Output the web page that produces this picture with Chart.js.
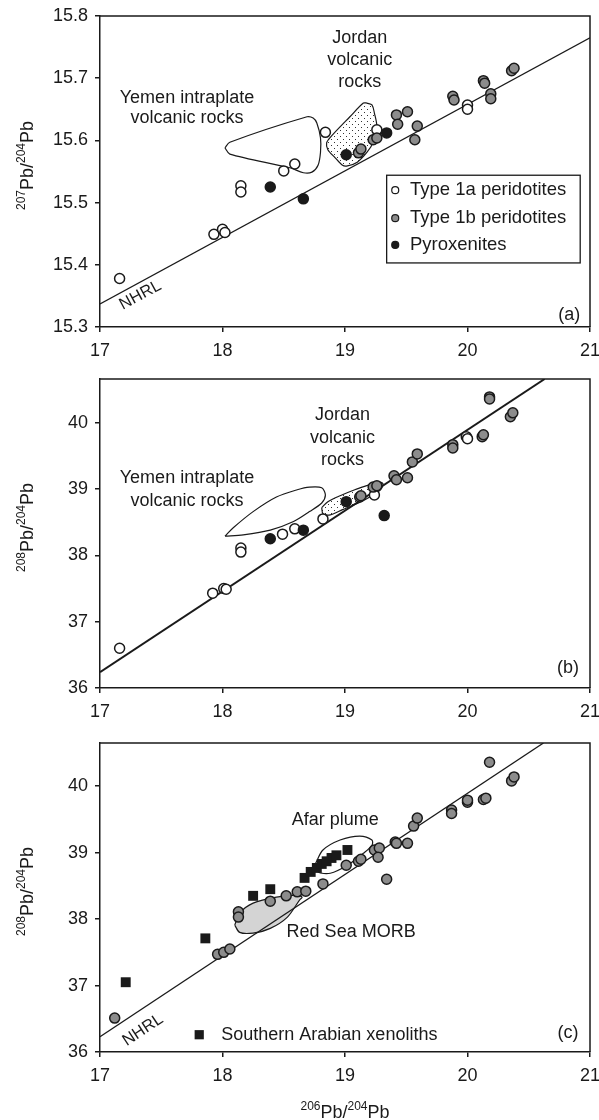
<!DOCTYPE html>
<html>
<head>
<meta charset="utf-8">
<script src="https://cdn.jsdelivr.net/npm/chart.js@4.4.1/dist/chart.umd.min.js"></script>
<style>
  html, body { margin: 0; padding: 0; background: #fff; }
  #wrap { position: relative; width: 599px; height: 1120px; }
  canvas { position: absolute; left: 0; }
</style>
</head>
<body>
<div id="wrap">
  <canvas id="chartA" width="599" height="362" style="top:0px"></canvas>
  <canvas id="chartB" width="599" height="363" style="top:362px"></canvas>
  <canvas id="chartC" width="599" height="395" style="top:725px"></canvas>
</div>
<script>
// --- 1. Values ---
const xTicks = [17, 18, 19, 20, 21];
const yTicks207 = [15.3, 15.4, 15.5, 15.6, 15.7, 15.8];
const yTicks208 = [36, 37, 38, 39, 40];

// (a) 207Pb/204Pb vs 206Pb/204Pb
const type1a_a = [[17.16,15.378],[17.93,15.449],[18.00,15.457],[18.02,15.452],[18.15,15.527],[18.15,15.517],
  [18.50,15.551],[18.59,15.562],[18.84,15.613],[19.26,15.617],[20.00,15.657],[20.00,15.650]];
const type1b_a = [[19.11,15.580],[19.13,15.586],[19.23,15.601],[19.26,15.604],[19.42,15.641],[19.43,15.626],
  [19.51,15.646],[19.59,15.623],[19.57,15.601],[19.88,15.671],[19.89,15.665],[20.13,15.696],[20.14,15.692],
  [20.19,15.675],[20.19,15.667],[20.36,15.712],[20.38,15.716]];
const pyrox_a = [[18.39,15.525],[18.66,15.506],[19.01,15.577],[19.34,15.612]];
const nhrl_a = [[17, 15.337], [21, 15.765]];
const yemen_a = [[18.02,15.588],[18.06,15.597],[18.69,15.638],[18.74,15.636],[18.77,15.628],[18.80,15.604],
  [18.80,15.581],[18.78,15.560],[18.73,15.549],[18.66,15.548],[18.55,15.556],[18.06,15.578]];
const jordan_a = [[19.18,15.660],[19.22,15.657],[19.24,15.644],[19.26,15.622],[19.23,15.597],[19.18,15.581],
  [19.10,15.565],[19.02,15.559],[18.98,15.560],[18.92,15.572],[18.86,15.585],[18.85,15.596],[18.88,15.605],
  [19.04,15.638],[19.15,15.660]];

// (b) 208Pb/204Pb vs 206Pb/204Pb
const type1a_b = [[17.16,36.60],[17.92,37.43],[18.01,37.50],[18.03,37.49],[18.15,38.11],[18.15,38.05],
  [18.49,38.32],[18.59,38.40],[18.82,38.55],[19.24,38.91],[19.99,39.79],[20.00,39.76]];
const type1b_b = [[19.12,38.88],[19.13,38.90],[19.23,39.03],[19.26,39.05],[19.40,39.20],[19.42,39.14],
  [19.51,39.17],[19.55,39.41],[19.59,39.53],[19.88,39.67],[19.88,39.62],[20.12,39.79],[20.13,39.82],
  [20.18,40.39],[20.18,40.36],[20.35,40.09],[20.37,40.15]];
const pyrox_b = [[18.39,38.25],[18.66,38.38],[19.01,38.81],[19.32,38.60]];
const nhrl_b = [[17, 36.24], [20.63, 40.66]];
const yemen_b = [[18.02,38.29],[18.09,38.42],[18.25,38.66],[18.44,38.88],[18.61,38.99],[18.71,39.03],
  [18.81,39.02],[18.84,38.91],[18.81,38.79],[18.71,38.66],[18.58,38.51],[18.39,38.38],[18.17,38.31]];
const jordan_b = [[18.81,38.72],[18.86,38.81],[18.96,38.90],[19.08,38.99],[19.19,39.06],[19.27,39.11],
  [19.31,39.08],[19.29,38.99],[19.22,38.90],[19.11,38.79],[18.98,38.69],[18.88,38.61],[18.82,38.63]];

// (c) 208Pb/204Pb vs 206Pb/204Pb with southern Arabian xenoliths
const peridot_c = [[17.12,36.51],[17.96,37.47],[18.01,37.50],[18.06,37.55],[18.13,38.11],[18.13,38.03],
  [18.39,38.27],[18.52,38.35],[18.61,38.41],[18.68,38.42],[18.82,38.53],[19.01,38.81],[19.11,38.87],
  [19.13,38.90],[19.24,39.04],[19.28,39.07],[19.27,38.93],[19.34,38.60],[19.41,39.16],[19.42,39.14],
  [19.51,39.14],[19.56,39.40],[19.59,39.52],[19.87,39.64],[19.87,39.59],[20.00,39.76],[20.00,39.79],
  [20.13,39.80],[20.15,39.82],[20.18,40.36],[20.36,40.08],[20.38,40.14]];
const arabian_c = [[17.21,37.05],[17.86,37.71],[18.25,38.35],[18.39,38.45],[18.67,38.62],[18.72,38.71],
  [18.77,38.77],[18.81,38.83],[18.85,38.87],[18.89,38.92],[18.93,38.96],[19.02,39.04]];
const nhrl_c = [[17, 36.23], [20.62, 40.65]];
const afar_c = [[18.76,38.84],[18.82,39.04],[18.96,39.19],[19.12,39.25],[19.22,39.19],[19.22,39.11],
  [19.15,38.99],[19.02,38.81],[18.88,38.69],[18.78,38.71]];
const morb_c = [[18.10,37.91],[18.14,38.09],[18.25,38.24],[18.44,38.33],[18.61,38.36],[18.65,38.33],
  [18.63,38.29],[18.53,38.03],[18.39,37.86],[18.25,37.79],[18.14,37.80]];

// --- 2. Styles ---
const FONT = '"Liberation Sans", Arial, Helvetica, sans-serif';
const INK = '#1a1a1a';
const GREY = '#8c8c8c';

const pts = arr => arr.map(([x, y]) => ({ x, y }));
const closed = arr => pts(arr.concat([arr[0]]));

function dotPattern() {
  const c = document.createElement('canvas');
  c.width = 6; c.height = 6;
  const g = c.getContext('2d');
  g.fillStyle = '#fff'; g.fillRect(0, 0, 6, 6);
  g.fillStyle = '#333'; g.fillRect(1, 1, 1, 1); g.fillRect(4, 4, 1, 1);
  return g.createPattern(c, 'repeat');
}

function markers(data, fill, order, shape) {
  return {
    data: pts(data), backgroundColor: fill, borderColor: INK,
    borderWidth: shape === 'rect' ? 0 : 1.5,
    pointRadius: shape === 'rect' ? 7 : 5,
    pointStyle: shape || 'circle', order
  };
}

function lineSet(data) {
  return { data: pts(data), showLine: true, pointRadius: 0, borderColor: INK, borderWidth: 1.3, fill: false, order: 5 };
}

function shapeSet(data, fill) {
  return {
    data: closed(data), showLine: true, pointRadius: 0, borderColor: INK, borderWidth: 1.2,
    backgroundColor: fill || 'transparent', fill: fill ? 'shape' : false, tension: 0.3, order: 10
  };
}

// --- 3. Drawing helpers: frame, notes, legend, axis titles ---
function drawRatio(ctx, cx, cy, supA, supB, vertical) {
  const big = '18px ' + FONT, small = '12px ' + FONT;
  const parts = [[supA, small, -1.5], ['Pb/', big, 6.5], [supB, small, -1.5], ['Pb', big, 6.5]];
  let total = 0;
  parts.forEach(p => { ctx.font = p[1]; p.push(ctx.measureText(p[0]).width); total += p[3]; });
  ctx.save();
  ctx.translate(cx, cy);
  if (vertical) ctx.rotate(-Math.PI / 2);
  ctx.fillStyle = INK; ctx.textBaseline = 'alphabetic'; ctx.textAlign = 'left';
  let xx = -total / 2;
  parts.forEach(p => { ctx.font = p[1]; ctx.fillText(p[0], xx, p[2]); xx += p[3]; });
  ctx.restore();
}

const panelExtras = {
  id: 'panelExtras',
  afterDraw(chart, args, opts) {
    const { ctx, chartArea: a, scales: { x, y } } = chart;
    ctx.save();
    ctx.strokeStyle = INK; ctx.lineWidth = 1.5;
    ctx.beginPath();
    ctx.moveTo(a.left, a.top); ctx.lineTo(a.right, a.top); ctx.lineTo(a.right, a.bottom);
    ctx.stroke();

    (opts.notes || []).forEach(n => {
      ctx.save();
      ctx.translate(x.getPixelForValue(n.x), y.getPixelForValue(n.y));
      if (n.along) {
        const [p0, p1] = n.along;
        ctx.rotate(Math.atan2(y.getPixelForValue(p1[1]) - y.getPixelForValue(p0[1]),
                              x.getPixelForValue(p1[0]) - x.getPixelForValue(p0[0])));
      }
      ctx.font = (n.size || 18) + 'px ' + FONT;
      ctx.fillStyle = INK; ctx.textAlign = n.align || 'center'; ctx.textBaseline = 'middle';
      ctx.fillText(n.text, 0, 0);
      ctx.restore();
    });

    const lg = opts.legend;
    if (lg) {
      if (lg.box) {
        const l = x.getPixelForValue(lg.box[0]), t = y.getPixelForValue(lg.box[1]);
        const r = x.getPixelForValue(lg.box[2]), b = y.getPixelForValue(lg.box[3]);
        ctx.fillStyle = '#fff'; ctx.fillRect(l, t, r - l, b - t);
        ctx.lineWidth = 1.3; ctx.strokeStyle = INK; ctx.strokeRect(l, t, r - l, b - t);
      }
      lg.rows.forEach(row => {
        const py = y.getPixelForValue(row.y);
        const mx = x.getPixelForValue(lg.markerX);
        ctx.fillStyle = row.fill; ctx.strokeStyle = INK; ctx.lineWidth = 1.2;
        if (row.shape === 'rect') {
          ctx.fillRect(mx - 4.6, py - 4.6, 9.2, 9.2);
        } else {
          ctx.beginPath(); ctx.arc(mx, py, 3.5, 0, Math.PI * 2); ctx.fill(); ctx.stroke();
        }
        ctx.fillStyle = INK; ctx.font = (lg.size || 18) + 'px ' + FONT;
        ctx.textAlign = 'left'; ctx.textBaseline = 'middle';
        ctx.fillText(row.label, x.getPixelForValue(lg.textX), py);
      });
    }

    if (opts.yTitle) drawRatio(ctx, 26.5, (a.top + a.bottom) / 2 - 6, '2' + opts.yTitle, '204', true);
    if (opts.xTitle) drawRatio(ctx, (a.left + a.right) / 2, a.bottom + 59, opts.xTitle, '204', false);
    ctx.restore();
  }
};

function panelOptions(p) {
  const tickFont = { family: FONT, size: 18 };
  const grid = { drawOnChartArea: false, color: INK, lineWidth: 1.5, tickLength: 5 };
  const border = { color: INK, width: 1.5 };
  return {
    responsive: false, animation: false, events: [],
    layout: { padding: { left: 0, right: 9, top: p.top, bottom: 0 } },
    plugins: { legend: { display: false }, tooltip: { enabled: false }, panelExtras: p.extras },
    scales: {
      x: {
        type: 'linear', min: 17, max: 21,
        afterBuildTicks: s => { s.ticks = xTicks.map(v => ({ value: v })); },
        afterFit: s => { s.height = p.xAxisH; s.paddingLeft = 0; s.paddingRight = 0; },
        ticks: { color: INK, font: tickFont, padding: 8, maxRotation: 0 },
        grid, border
      },
      y: {
        type: 'linear', min: p.yMin, max: p.yMax,
        afterBuildTicks: s => { s.ticks = p.yTicks.map(v => ({ value: v })); },
        afterFit: s => { s.width = 100; s.paddingTop = 0; s.paddingBottom = 0; },
        ticks: { color: INK, font: tickFont, padding: 7, callback: v => v.toFixed(p.dec) },
        grid, border
      }
    }
  };
}

// --- 4. Panels ---
const dots = dotPattern();

new Chart(document.getElementById('chartA'), {
  type: 'scatter',
  data: { datasets: [
    shapeSet(yemen_a), shapeSet(jordan_a, dots), lineSet(nhrl_a),
    markers(type1a_a, '#fff', 3), markers(type1b_a, GREY, 2), markers(pyrox_a, INK, 1)
  ] },
  options: panelOptions({
    top: 16, xAxisH: 35, yMin: 15.3, yMax: 15.8, yTicks: yTicks207, dec: 1,
    extras: {
      yTitle: '07',
      notes: [
        { text: 'Yemen intraplate', x: 17.71, y: 15.668 },
        { text: 'volcanic rocks', x: 17.71, y: 15.636 },
        { text: 'Jordan', x: 19.12, y: 15.765 },
        { text: 'volcanic', x: 19.12, y: 15.729 },
        { text: 'rocks', x: 19.12, y: 15.694 },
        { text: 'NHRL', x: 17.33, y: 15.351, along: nhrl_a, size: 16.5 },
        { text: '(a)', x: 20.83, y: 15.319 }
      ],
      legend: {
        box: [19.34, 15.544, 20.92, 15.403], markerX: 19.41, textX: 19.53, size: 18.5,
        rows: [
          { label: 'Type 1a peridotites', y: 15.520, fill: '#fff' },
          { label: 'Type 1b peridotites', y: 15.475, fill: GREY },
          { label: 'Pyroxenites', y: 15.432, fill: INK }
        ]
      }
    }
  }),
  plugins: [panelExtras]
});

new Chart(document.getElementById('chartB'), {
  type: 'scatter',
  data: { datasets: [
    shapeSet(yemen_b), shapeSet(jordan_b, dots), Object.assign(lineSet(nhrl_b), { borderWidth: 2 }),
    markers(type1a_b, '#fff', 3), markers(type1b_b, GREY, 2), markers(pyrox_b, INK, 1)
  ] },
  options: panelOptions({
    top: 17, xAxisH: 37, yMin: 36, yMax: 40.66, yTicks: yTicks208, dec: 0,
    extras: {
      yTitle: '08',
      notes: [
        { text: 'Yemen intraplate', x: 17.71, y: 39.17 },
        { text: 'volcanic rocks', x: 17.71, y: 38.82 },
        { text: 'Jordan', x: 18.98, y: 40.12 },
        { text: 'volcanic', x: 18.98, y: 39.77 },
        { text: 'rocks', x: 18.98, y: 39.44 },
        { text: '(b)', x: 20.82, y: 36.30 }
      ]
    }
  }),
  plugins: [panelExtras]
});

new Chart(document.getElementById('chartC'), {
  type: 'scatter',
  data: { datasets: [
    shapeSet(morb_c, '#d4d4d4'), shapeSet(afar_c), lineSet(nhrl_c),
    markers(peridot_c, GREY, 2), markers(arabian_c, INK, 1, 'rect')
  ] },
  options: panelOptions({
    top: 18, xAxisH: 68, yMin: 36, yMax: 40.65, yTicks: yTicks208, dec: 0,
    extras: {
      yTitle: '08', xTitle: '206',
      notes: [
        { text: 'Afar plume', x: 18.92, y: 39.49 },
        { text: 'Red Sea MORB', x: 19.05, y: 37.80 },
        { text: 'NHRL', x: 17.35, y: 36.33, along: nhrl_c, size: 16.5 },
        { text: '(c)', x: 20.82, y: 36.29 }
      ],
      legend: {
        markerX: 17.81, textX: 17.99, size: 18,
        rows: [{ label: 'Southern Arabian xenoliths', y: 36.26, fill: INK, shape: 'rect' }]
      }
    }
  }),
  plugins: [panelExtras]
});
</script>
</body>
</html>
